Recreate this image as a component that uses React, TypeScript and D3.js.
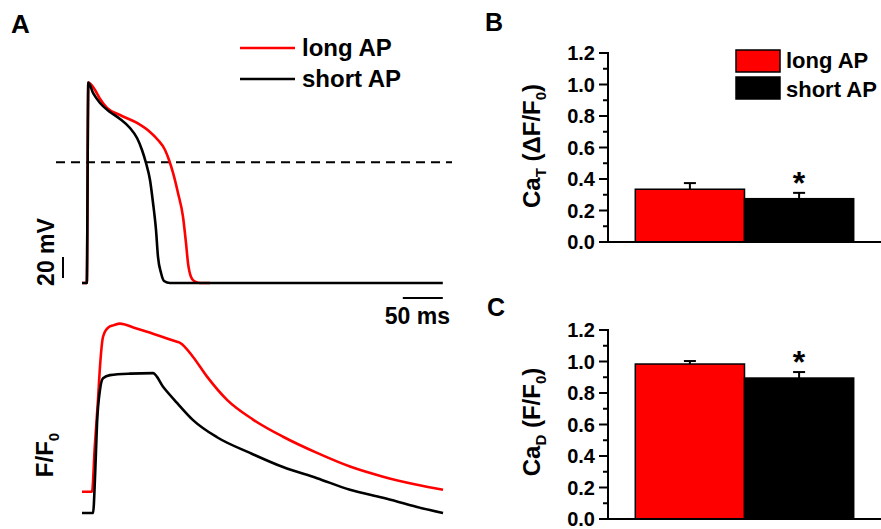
import React from "react";
import * as d3 from "d3";

// ---------- Panel A: action potentials (time in ms, voltage in mV) ----------
const shortApTime = [0, 6, 7.9, 13.8, 22.5, 35, 47.5, 60, 68.8, 75, 80, 85, 88.8, 92.5, 95, 98.8, 102.5, 110, 451];
const shortApMv = [-80, -80, 110.8, 101, 91.4, 82.9, 76.2, 67.6, 58.1, 46.7, 34.3, 18.1, -3.8, -29.5, -55.2, -70.5, -78.1, -80, -80];
const longApTime = [0, 6, 7.9, 16.3, 22, 31.3, 47.5, 68.8, 85, 95, 103.8, 108.8, 113.8, 120, 126.3, 130, 132.5, 136.3, 140, 147.5, 160];
const longApMv = [-80, -80, 110.8, 103.8, 96, 86.7, 80, 72.4, 63.8, 56.2, 46.7, 37.1, 24.8, 5.7, -17.1, -41.9, -61, -74.3, -78.1, -80, -80];
const dashedLevelMv = 35;
const scaleBarMv = 20;
const scaleBarMs = 50;

// ---------- Panel A: Ca transients (F/F0) ----------
const longCaTime = [0, 12.5, 16, 20, 22.5, 26.3, 32.5, 40, 47.5, 65, 81.3, 100, 118.8, 122.5, 138.8, 156.3, 181.3, 213.8, 251.3, 293.8, 335, 376.3, 418.8, 451.3];
const longCaF = [1.0, 1.0, 1.09, 1.182, 1.248, 1.307, 1.325, 1.33, 1.333, 1.325, 1.317, 1.307, 1.297, 1.295, 1.267, 1.228, 1.182, 1.143, 1.109, 1.077, 1.05, 1.03, 1.014, 1.004];
const shortCaTime = [0, 13.8, 16.5, 18.8, 22.5, 26.3, 35, 60, 88.8, 101.3, 118.8, 138.8, 168.8, 210, 251.3, 293.8, 335, 376.3, 418.8, 451.3];
const shortCaF = [1.0, 1.0, 1.08, 1.178, 1.244, 1.267, 1.273, 1.276, 1.277, 1.25, 1.218, 1.184, 1.15, 1.119, 1.091, 1.069, 1.046, 1.03, 1.012, 1.0];
const longCaDisplayOffset = 0.042;

// ---------- Panels B & C: bar data ----------
const barCategories = ["long AP", "short AP"];
const caTValues = [0.335, 0.275];
const caTErrors = [0.039, 0.037];
const caDValues = [0.984, 0.895];
const caDErrors = [0.019, 0.038];
const significant = [false, true];
const yTicks = [0, 0.2, 0.4, 0.6, 0.8, 1.0, 1.2];
const yMinorTicks = [0.1, 0.3, 0.5, 0.7, 0.9, 1.1];

const RED = "#ff0000";
const BLACK = "#000000";
const FONT = "'Liberation Sans', Arial, Helvetica, sans-serif";

function BarPanel({ top, bottom, values, errors, label, sub, labelRest, labelCenterY, showLegend }) {
  const y = d3.scaleLinear().domain([0, 1.2]).range([bottom, top]);
  const x = d3.scaleBand().domain(barCategories).range([608, 881]).paddingInner(0).paddingOuter(0.25);
  const x0 = 608;
  return (
    <g>
      {barCategories.map((c, i) => (
        <rect key={c} x={x(c)} y={y(values[i])} width={x.bandwidth()} height={y(0) - y(values[i])}
          fill={i === 0 ? RED : BLACK} stroke={BLACK} strokeWidth={1.5} />
      ))}
      {barCategories.map((c, i) => {
        const cx = (x(c) as number) + x.bandwidth() / 2;
        return (
          <g key={"e" + c} stroke={BLACK} strokeWidth={2}>
            <line x1={cx} x2={cx} y1={y(values[i])} y2={y(values[i] + errors[i])} />
            <line x1={cx - 6} x2={cx + 6} y1={y(values[i] + errors[i])} y2={y(values[i] + errors[i])} />
          </g>
        );
      })}
      {barCategories.map((c, i) => significant[i] ? (
        <text key={"s" + c} x={(x(c) as number) + x.bandwidth() / 2} y={y(values[i] + errors[i]) + 1}
          textAnchor="middle" fontSize={32} fontWeight="bold" fontFamily={FONT}>*</text>
      ) : null)}
      <line x1={x0} x2={x0} y1={y(0)} y2={y(1.2) - 1} stroke={BLACK} strokeWidth={2} />
      <line x1={x0 - 1} x2={881} y1={y(0)} y2={y(0)} stroke={BLACK} strokeWidth={2} />
      {yTicks.map((t) => (
        <g key={t}>
          <line x1={x0 - 9} x2={x0} y1={y(t)} y2={y(t)} stroke={BLACK} strokeWidth={2} />
          <text x={x0 - 13} y={y(t)} dy="0.36em" textAnchor="end" fontSize={20} fontWeight="bold" fontFamily={FONT}>
            {d3.format(".1f")(t)}
          </text>
        </g>
      ))}
      {yMinorTicks.map((t) => (
        <line key={t} x1={x0 - 5} x2={x0} y1={y(t)} y2={y(t)} stroke={BLACK} strokeWidth={2} />
      ))}
      <text transform={`translate(540,${labelCenterY}) rotate(-90)`} textAnchor="middle" fontSize={24}
        fontWeight="bold" fontFamily={FONT}>
        {label}
        <tspan dy={6} fontSize={15}>{sub}</tspan>
        <tspan dy={-6}>{labelRest[0]}</tspan>
        <tspan dy={6} fontSize={15}>0</tspan>
        <tspan dy={-6}>)</tspan>
      </text>
      {showLegend && (
        <g>
          {barCategories.map((c, i) => (
            <g key={"l" + c}>
              <rect x={736} y={50 + i * 27} width={44} height={22} fill={i === 0 ? RED : BLACK} stroke={BLACK} strokeWidth={1.5} />
              <text x={786} y={68 + i * 29} fontSize={22} fontWeight="bold" fontFamily={FONT}>{c}</text>
            </g>
          ))}
        </g>
      )}
    </g>
  );
}

export default function App() {
  const xT = d3.scaleLinear().domain([0, 50]).range([82, 122]);
  const yV = d3.scaleLinear().domain([-80, -60]).range([283, 262]);
  const yF = d3.scaleLinear().domain([1.0, 1.1]).range([513, 462.5]);

  const apLine = (t, v) =>
    d3.line().x((d) => xT(d[0])).y((d) => yV(d[1])).curve(d3.curveMonotoneX)(t.map((tt, i) => [tt, v[i]]));
  const caLine = (t, f, off) =>
    d3.line().x((d) => xT(d[0])).y((d) => yF(d[1] + off)).curve(d3.curveMonotoneX)(t.map((tt, i) => [tt, f[i]]));

  const barX = xT(-23.75);
  const barBottomMv = -75.2;
  const msBarY = yV(-94.3);
  const msBarEnd = 451;

  return (
    <svg width={881} height={529} style={{ position: "absolute", left: 0, top: 0, background: "#fff" }}
      fontFamily={FONT}>
      <rect width={881} height={529} fill="#fff" />
      <text x={11} y={33} fontSize={26} fontWeight="bold">A</text>
      <text x={485} y={31} fontSize={25} fontWeight="bold">B</text>
      <text x={487} y={316} fontSize={25} fontWeight="bold">C</text>

      <line x1={240} x2={295} y1={48} y2={48} stroke={RED} strokeWidth={2.5} />
      <text x={302} y={56} fontSize={24} fontWeight="bold">long AP</text>
      <line x1={240} x2={295} y1={79} y2={79} stroke={BLACK} strokeWidth={2.5} />
      <text x={302} y={87} fontSize={24} fontWeight="bold">short AP</text>

      <line x1={xT(-32.5)} x2={xT(462.5)} y1={yV(dashedLevelMv)} y2={yV(dashedLevelMv)} stroke={BLACK}
        strokeWidth={2} strokeDasharray="9,6" />

      <path d={apLine(longApTime, longApMv)} fill="none" stroke={RED} strokeWidth={2.6} />
      <path d={apLine(shortApTime, shortApMv)} fill="none" stroke={BLACK} strokeWidth={2.6} />

      <line x1={barX} x2={barX} y1={yV(barBottomMv)} y2={yV(barBottomMv + scaleBarMv)} stroke={BLACK} strokeWidth={2} />
      <text transform={`translate(54,252) rotate(-90)`} textAnchor="middle" fontSize={23} fontWeight="bold">20 mV</text>
      <line x1={xT(msBarEnd - scaleBarMs)} x2={xT(msBarEnd)} y1={msBarY} y2={msBarY} stroke={BLACK} strokeWidth={2} />
      <text x={450} y={324} textAnchor="end" fontSize={23} fontWeight="bold">50 ms</text>

      <path d={caLine(longCaTime, longCaF, longCaDisplayOffset)} fill="none" stroke={RED} strokeWidth={2.6} />
      <path d={caLine(shortCaTime, shortCaF, 0)} fill="none" stroke={BLACK} strokeWidth={2.6} />
      <text transform={`translate(53,455) rotate(-90)`} textAnchor="middle" fontSize={24} fontWeight="bold">
        F/F<tspan dy={6} fontSize={15}>0</tspan>
      </text>

      <BarPanel top={53} bottom={242} values={caTValues} errors={caTErrors} label="Ca" sub="T"
        labelRest={[" (ΔF/F"]} labelCenterY={146} showLegend={true} />
      <BarPanel top={330} bottom={519} values={caDValues} errors={caDErrors} label="Ca" sub="D"
        labelRest={[" (F/F"]} labelCenterY={422} showLegend={false} />
    </svg>
  );
}
